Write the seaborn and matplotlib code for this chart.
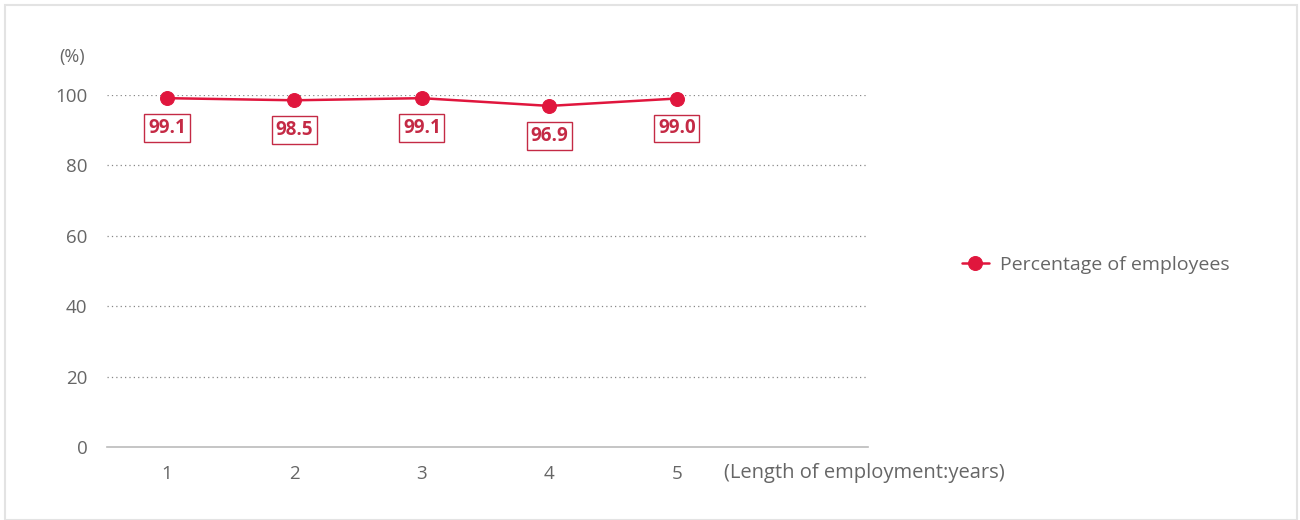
import matplotlib
matplotlib.use("Agg")
import matplotlib.pyplot as plt
import seaborn as sns
import pandas as pd
from matplotlib.patches import Rectangle

# data
years = [1, 2, 3, 4, 5]
percentages = [99.1, 98.5, 99.1, 96.9, 99.0]
y_ticks = [0, 20, 40, 60, 80, 100]
series_name = "Percentage of employees"

df = pd.DataFrame({"year": years, "pct": percentages})

sns.set_style("white")
plt.rcParams['font.family'] = ['Open Sans', 'DejaVu Sans']

red = '#e0163d'
box_red = '#c42a45'
gray = '#666666'

fig = plt.figure(figsize=(13, 5.2), dpi=100)
ax = fig.add_axes([107 / 1300, 1 - 447 / 520, (868 - 107) / 1300, (447 - 95) / 520])

sns.lineplot(data=df, x="year", y="pct", ax=ax, color=red, linewidth=1.8,
             marker='o', markersize=10, markeredgecolor=red, label=series_name,
             clip_on=False, zorder=5)

# value labels in boxes
for x, y in zip(years, percentages):
    ax.annotate(f"{y:.1f}", (x, y), xytext=(0, -21.5), textcoords='offset points',
                ha='center', va='center', fontsize=13.5, fontweight='bold', color=box_red,
                bbox=dict(boxstyle='square,pad=0.2', fc='white', ec=box_red, lw=1))

ax.set_xlim(0.53, 6.5)
ax.set_ylim(0, 100)
ax.set_xticks(years)
ax.set_yticks(y_ticks)
ax.tick_params(axis='both', length=0, labelsize=13.5, labelcolor=gray)
ax.tick_params(axis='x', pad=13)
ax.tick_params(axis='y', pad=14)
for t in y_ticks[1:]:
    ax.axhline(t, color='#888888', lw=0.9, ls=(0, (1, 2.5)), zorder=1)
for s in ['top', 'right', 'left']:
    ax.spines[s].set_visible(False)
ax.spines['bottom'].set_color('#bbbbbb')
ax.spines['bottom'].set_linewidth(1.2)
ax.set_xlabel("")
ax.set_ylabel("")

fig.text(72 / 1300, 1 - 57 / 520, "(%)", ha='center', va='center', fontsize=13, color=gray)
fig.text(724 / 1300, 1 - 473 / 520, "(Length of employment:years)", ha='left', va='center',
         fontsize=14.5, color=gray)

handles, labels = ax.get_legend_handles_labels()
ax.get_legend().remove()
fig.legend(handles, labels, loc='center left', bbox_to_anchor=(944 / 1300, 1 - 265 / 520),
           frameon=False, fontsize=14, labelcolor=gray, handlelength=1.4, handletextpad=0.6)

# outer border
fig.patches.append(Rectangle((5 / 1300, 0), 1292 / 1300, 1 - 5 / 520, transform=fig.transFigure,
                             fill=False, ec='#e3e3e3', lw=1.5))

fig.savefig("out.png", dpi=100)
